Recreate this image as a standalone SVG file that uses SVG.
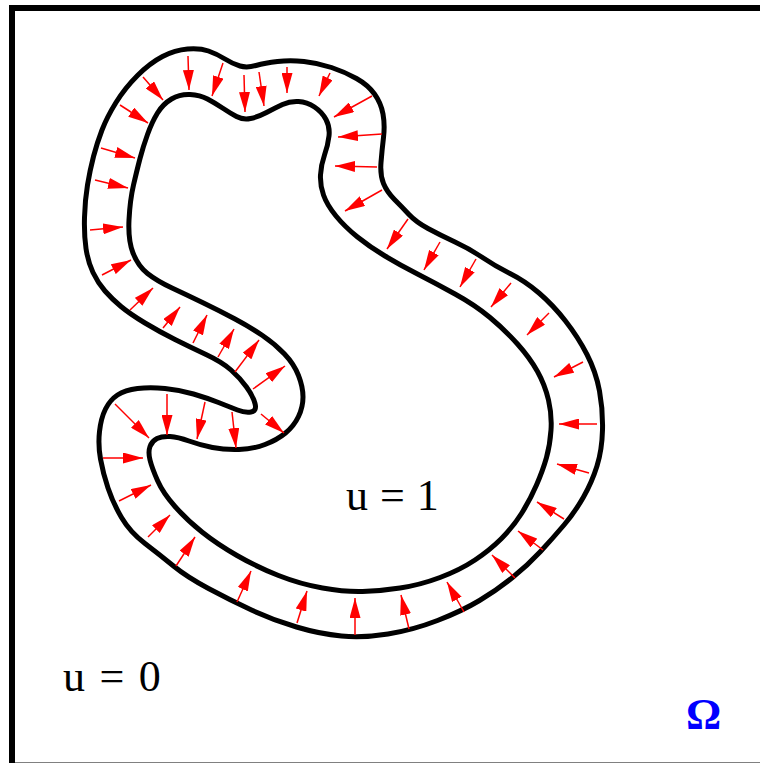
<svg xmlns="http://www.w3.org/2000/svg" width="760" height="763" viewBox="0 0 760 763">
<style>
.frame{fill:none;stroke:#000;stroke-width:6}
.curve{fill:none;stroke:#000;stroke-width:5;stroke-linejoin:round}
.arr{stroke:#ff0000;stroke-width:1.5;fill:none;marker-end:url(#ah)}
.lbl{font-family:"Liberation Serif","Times New Roman",serif;font-size:44px;fill:#000}
.omega{font-family:"Liberation Serif","Times New Roman",serif;font-size:44px;font-weight:bold;fill:#0000ff}
</style>
<defs>
<marker id="ah" markerUnits="userSpaceOnUse" markerWidth="20" markerHeight="11" refX="20" refY="5.5" orient="auto">
<path d="M0,0 L20,5.5 L0,11 Z" fill="#ff0000"/>
</marker>
</defs>
<rect width="760" height="763" fill="#fff"/>
<rect id="frame" class="frame" x="12" y="8" width="760" height="757.5"/>
<g id="outer-boundary">
<path class="curve" d="M187.5,49 Q200,48 208.5,51 T225,59 T240,66 T256,65.5 T277.5,61.5 T304,61.5 T331.5,67.5 T356.5,78.5 T374.5,94 T383,114 T383.5,137.5 T381,162.5 T383.5,183.5 T394.5,199.5 T409,214.5 T428,228.5 T455,242 T482.5,257.5 T510,273.5 T539,293 T565.5,321 T587,354.5 T599.5,391 T602.5,430 T597,466 T583.5,497 T564,525 T540.5,551.5 T512.5,577.5 T479.5,600.5 T437.5,620.5 T388,634 T341.5,636 T296.5,627 T251.5,610 T208.5,588.5 T173.5,566 T145,543.5 T121.5,517.5 T108,488 T100.5,459 T99.5,431.5 T105.5,409 T117.5,395 T137.5,388.5 T165,388.5 T193.5,394 T218.5,402.5 T237.5,410 T251,412 T255,403.5 T246.5,387 T231,370 T206,354.5 T175,339.5 T145,323 T121,306.5 T105,291 T93,272.5 T86,248.5 T84.5,217.5 T87.5,185 T93.5,156.5 T102,130 T116,102.5 T137.5,75.5 T162.5,56.5 T187.5,49 Z"/>
</g>
<g id="inner-boundary">
<path class="curve" d="M190,94.5 Q200,95 207.5,99 T222.5,108 T236.5,116.5 T250.5,118.5 T266.5,112.5 T282.5,104.5 T298.5,101.5 T314.5,107 T326,119.5 T329,136 T324.5,155 T320.5,175 T323.5,195 T336,216 T357.5,237 T385,256 T417.5,274 T455,294 T490,317.5 T517.5,344 T537.5,371.5 T548.5,400 T551,430 T546.5,457.5 T536.5,485 T521.5,513.5 T501.5,538.5 T475,560 T440,577.5 T400,588 T362.5,591.5 T322.5,588 T278.5,575.5 T237,555.5 T202,532 T175,506.5 T157.5,480.5 T150,460 T150,446.5 T157,438.5 T170,436.5 T189,441 T212.5,447.5 T239,449.5 T265,444.5 T285.5,433 T298.5,416.5 T303,397 T298.5,375.5 T284.5,354 T262.5,335.5 T235,319 T203.5,303 T172,288 T147.5,273.5 T133,253 T129,220 T133.5,185 T140,158.5 T147.5,134.5 T157.5,113 T171.5,99 T190,94.5 Z"/>
</g>
<g id="connectors">
<line class="arr" x1="188" y1="56" x2="189" y2="90"/>
<line class="arr" x1="143" y1="77" x2="163" y2="100"/>
<line class="arr" x1="120" y1="105" x2="148" y2="123"/>
<line class="arr" x1="101" y1="148" x2="135" y2="158"/>
<line class="arr" x1="95" y1="180" x2="128" y2="188"/>
<line class="arr" x1="90" y1="230" x2="123" y2="227"/>
<line class="arr" x1="102" y1="275" x2="131" y2="260"/>
<line class="arr" x1="130" y1="310" x2="153" y2="288"/>
<line class="arr" x1="163" y1="328" x2="180" y2="307"/>
<line class="arr" x1="193" y1="343" x2="207" y2="315"/>
<line class="arr" x1="218" y1="357" x2="234" y2="329"/>
<line class="arr" x1="235" y1="372" x2="259" y2="340"/>
<line class="arr" x1="253" y1="389" x2="285" y2="366"/>
<line class="arr" x1="261" y1="414" x2="284" y2="433"/>
<line class="arr" x1="232" y1="412" x2="236" y2="448"/>
<line class="arr" x1="205" y1="402" x2="197" y2="439"/>
<line class="arr" x1="167" y1="394" x2="167" y2="435"/>
<line class="arr" x1="115" y1="404" x2="149" y2="438"/>
<line class="arr" x1="103" y1="458" x2="143" y2="458"/>
<line class="arr" x1="119" y1="501" x2="151" y2="485"/>
<line class="arr" x1="148" y1="537" x2="170" y2="515"/>
<line class="arr" x1="176" y1="566" x2="195" y2="537"/>
<line class="arr" x1="237" y1="602" x2="251" y2="571"/>
<line class="arr" x1="297" y1="623" x2="307" y2="591"/>
<line class="arr" x1="355" y1="635" x2="355" y2="598"/>
<line class="arr" x1="409" y1="629" x2="401" y2="595"/>
<line class="arr" x1="464" y1="612" x2="447" y2="582"/>
<line class="arr" x1="515" y1="578" x2="492" y2="555"/>
<line class="arr" x1="543" y1="550" x2="518" y2="531"/>
<line class="arr" x1="564" y1="519" x2="537" y2="502"/>
<line class="arr" x1="589" y1="473" x2="557" y2="464"/>
<line class="arr" x1="597" y1="424" x2="559" y2="424"/>
<line class="arr" x1="583" y1="362" x2="554" y2="377"/>
<line class="arr" x1="549" y1="313" x2="527" y2="335"/>
<line class="arr" x1="511" y1="283" x2="491" y2="307"/>
<line class="arr" x1="476" y1="259" x2="460" y2="287"/>
<line class="arr" x1="440" y1="242" x2="424" y2="270"/>
<line class="arr" x1="408" y1="219" x2="387" y2="249"/>
<line class="arr" x1="382" y1="190" x2="345" y2="211"/>
<line class="arr" x1="377" y1="167" x2="335" y2="166"/>
<line class="arr" x1="382" y1="134" x2="338" y2="137"/>
<line class="arr" x1="372" y1="96" x2="334" y2="117"/>
<line class="arr" x1="330" y1="73" x2="319" y2="96"/>
<line class="arr" x1="287" y1="67" x2="287" y2="93"/>
<line class="arr" x1="259" y1="72" x2="264" y2="106"/>
<line class="arr" x1="244" y1="75" x2="245" y2="112"/>
<line class="arr" x1="223" y1="63" x2="212" y2="96"/>
</g>
<g id="labels">
<text class="lbl" x="346" y="510" word-spacing="1">u = 1</text>
<text class="lbl" x="63" y="691" word-spacing="3.5">u = 0</text>
<text class="omega" x="686" y="729">Ω</text>
</g>
</svg>
